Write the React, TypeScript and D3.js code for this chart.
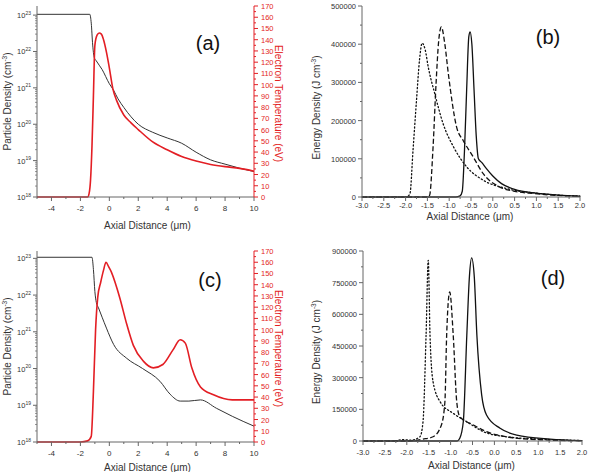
import * as d3 from "d3";
import React from "react";

// ---- panel (a): density (cm^-3) and electron temperature (eV) vs axial distance (um)
const densityXA = [-5, -1.35, -1.25, -1.15, -1.05, -0.9, -0.5, 0, 0.3, 0.6, 1, 1.5, 2, 3, 4, 5, 6, 7, 8, 9, 10];
const densityA = [1.05e23, 1.05e23, 6e22, 1.5e22, 7e21, 5.5e21, 3.2e21, 1.3e21, 8.5e20, 5e20, 2.9e20, 1.6e20, 1.0e20, 6e19, 4.2e19, 3e19, 1.7e19, 1.05e19, 8e18, 6.2e18, 5e18];
const tempXA = [-5, -1.5, -1.4, -1.3, -1.2, -1.1, -1.0, -0.85, -0.7, -0.55, -0.4, -0.2, 0, 0.25, 0.5, 1, 1.5, 2, 3, 4, 5, 6, 7, 8, 9, 10];
const tempA = [0, 0, 3, 15, 45, 90, 135, 144, 146, 145, 140, 129, 115, 96, 86, 73, 66, 60, 49, 42, 36, 32, 29, 27, 25.5, 23];

// ---- panel (c)
const densityXC = [-5, -1.2, -1.1, -1.0, -0.9, -0.75, -0.5, -0.2, 0.3, 1.2, 2.3, 3.5, 4.2, 4.9, 5.5, 6.3, 7.4, 8.5, 10];
const densityC = [1.07e23, 1.07e23, 5e22, 1.26e22, 6.3e21, 4.5e21, 2.5e21, 1.26e21, 4.5e20, 1.9e20, 1.0e20, 4.5e19, 2e19, 1.3e19, 1.3e19, 1.4e19, 8.3e18, 5e18, 2.7e18];
const tempXC = [-5, -2, -1.5, -1.25, -1.1, -0.95, -0.8, -0.6, -0.4, -0.23, -0.05, 0.15, 0.45, 0.73, 1.2, 1.66, 2.35, 3.04, 3.7, 4.4, 4.9, 5.25, 5.7, 6.3, 7.2, 8.5, 10];
const tempC = [0, 0, 1, 5, 45, 100, 129, 142, 153, 160, 156, 151, 140, 128, 105, 86, 72, 66, 69, 82, 91, 88, 66, 49, 42, 37.5, 37.5];

// ---- panel (b): energy density (J cm^-3)
const solidXB = [-3, -0.85, -0.75, -0.7, -0.65, -0.6, -0.55, -0.52, -0.48, -0.43, -0.38, -0.33, -0.25, -0.15, 0, 0.2, 0.5, 1.0, 1.5, 2.0];
const solidB = [0, 0, 3e3, 15e3, 120e3, 280e3, 420e3, 432e3, 400e3, 280e3, 160e3, 100e3, 90e3, 75e3, 55e3, 35e3, 20e3, 10e3, 5e3, 2e3];
const dashXB = [-3, -1.5, -1.45, -1.37, -1.3, -1.24, -1.18, -1.1, -1.02, -0.83, -0.68, -0.45, -0.22, 0.16, 0.5, 0.93, 1.5, 2.0];
const dashB = [0, 0, 4e3, 131e3, 300e3, 410e3, 445e3, 400e3, 323e3, 183e3, 148e3, 105e3, 61e3, 26e3, 15e3, 9e3, 4e3, 2e3];
const dotXB = [-3, -1.98, -1.9, -1.83, -1.75, -1.68, -1.62, -1.55, -1.48, -1.33, -1.14, -0.9, -0.6, -0.22, 0.32, 1.08, 2.0];
const dotB = [0, 0, 9e3, 122e3, 253e3, 360e3, 403e3, 385e3, 340e3, 270e3, 192e3, 131e3, 79e3, 44e3, 22e3, 9e3, 2e3];

// ---- panel (d)
const solidXD = [-3, -0.85, -0.79, -0.71, -0.63, -0.57, -0.52, -0.46, -0.4, -0.29, -0.18, 0.13, 0.51, 1.27, 2.0];
const solidD = [0, 0, 13e3, 91e3, 501e3, 780e3, 867e3, 780e3, 501e3, 217e3, 123e3, 60e3, 28e3, 9e3, 2e3];
const dashXD = [-3, -2.0, -1.63, -1.4, -1.21, -1.13, -1.09, -1.02, -0.94, -0.86, -0.79, -0.48, -0.18, 0.28, 1.05, 2.0];
const dashD = [0, 0, 9e3, 20e3, 76e3, 186e3, 501e3, 706e3, 501e3, 186e3, 115e3, 76e3, 44e3, 20e3, 6e3, 1e3];
const dotXD = [-3, -2.3, -2.1, -1.9, -1.7, -1.63, -1.56, -1.51, -1.47, -1.4, -1.24, -0.94, -0.63, -0.25, 0.28, 1.05, 2.0];
const dotD = [0, 0, 6e3, 4e3, 20e3, 91e3, 501e3, 856e3, 501e3, 280e3, 186e3, 131e3, 91e3, 44e3, 20e3, 9e3, 2e3];

const xTicksDens = [-4, -2, 0, 2, 4, 6, 8, 10];
const tempTicks = d3.range(0, 171, 10);

const RED = "#e31e24";
const AXIS = "#666";
const FONT = "'Liberation Sans', Arial, sans-serif";

function zip(xs: number[], ys: number[]) {
  return xs.map((x, i) => [x, ys[i]] as [number, number]);
}

function DensityPanel({ box, logMax, xd, yd, xt, yt, label, titleY }: any) {
  const { left, right, top, bottom } = box;
  const x = d3.scaleLinear().domain([-5, 10]).range([left, right]);
  const y = d3.scaleLog().domain([1e18, Math.pow(10, logMax)]).range([bottom, top]);
  const t = d3.scaleLinear().domain([0, 170]).range([bottom, top]);
  const lineD = d3.line<[number, number]>().x((d) => x(d[0])).y((d) => y(d[1])).curve(d3.curveMonotoneX);
  const lineT = d3.line<[number, number]>().x((d) => x(d[0])).y((d) => t(d[1])).curve(d3.curveMonotoneX);
  const minorLog: number[] = [];
  for (let e = 18; e < 24; e++) for (let m = 2; m < 10; m++) {
    const v = m * Math.pow(10, e);
    if (v <= Math.pow(10, logMax)) minorLog.push(v);
  }
  const mid = (top + bottom) / 2;
  return (
    <g>
      <path d={lineD(zip(xd, yd)) || ""} fill="none" stroke="#333" strokeWidth={1} />
      <path d={lineT(zip(xt, yt)) || ""} fill="none" stroke={RED} strokeWidth={1.6} />
      {/* left log axis */}
      <line x1={left} x2={left} y1={top} y2={bottom} stroke={AXIS} />
      {minorLog.map((v) => (
        <line key={"m" + v} x1={left - 2} x2={left} y1={y(v)} y2={y(v)} stroke={AXIS} strokeWidth={0.7} />
      ))}
      {d3.range(18, 24).map((e) => (
        <g key={"e" + e}>
          <line x1={left - 4} x2={left} y1={y(Math.pow(10, e))} y2={y(Math.pow(10, e))} stroke={AXIS} />
          <text x={left - 6} y={y(Math.pow(10, e)) + 3} textAnchor="end" fontSize={7.5} fill="#333">
            10<tspan dy={-3.5} fontSize={5}>{e}</tspan>
          </text>
        </g>
      ))}
      {/* bottom axis */}
      <line x1={left} x2={right} y1={bottom} y2={bottom} stroke={AXIS} />
      {d3.range(-5, 11, 1).map((v) => (
        <line key={"xm" + v} x1={x(v)} x2={x(v)} y1={bottom} y2={bottom + (v % 2 === 0 ? 4 : 2)} stroke={AXIS} />
      ))}
      {xTicksDens.map((v) => (
        <text key={"xl" + v} x={x(v)} y={bottom + 14} textAnchor="middle" fontSize={8} fill="#333">{v}</text>
      ))}
      {/* right temperature axis */}
      <line x1={right} x2={right} y1={top} y2={bottom} stroke={RED} />
      {d3.range(0, 171, 5).map((v) => (
        <line key={"tm" + v} x1={right} x2={right + (v % 10 === 0 ? 4 : 2)} y1={t(v)} y2={t(v)} stroke={RED} />
      ))}
      {tempTicks.map((v) => (
        <text key={"tl" + v} x={right + 7} y={t(v) + 3} fontSize={7.5} fill={RED}>{v}</text>
      ))}
      {/* titles */}
      <text transform={`translate(11,${mid}) rotate(-90)`} textAnchor="middle" fontSize={10} fill="#333">
        Particle Density (cm<tspan dy={-4} fontSize={6.5}>-3</tspan><tspan dy={4}>)</tspan>
      </text>
      <text transform={`translate(275,${mid + 2}) rotate(90)`} textAnchor="middle" fontSize={10} fill={RED}>
        Electron Temperature (eV)
      </text>
      <text x={(left + right) / 2 + 2} y={titleY} textAnchor="middle" fontSize={10} fill="#333">Axial Distance (μm)</text>
      <text x={label[1]} y={label[2]} textAnchor="middle" fontSize={20} fill="#111">{label[0]}</text>
    </g>
  );
}

function EnergyPanel({ box, yMax, yStep, series, label, titleY, tickOffset }: any) {
  const { left, right, top, bottom } = box;
  const x = d3.scaleLinear().domain([-3, 2]).range([left, right]);
  const y = d3.scaleLinear().domain([0, yMax]).range([bottom, top]);
  const line = d3.line<[number, number]>().x((d) => x(d[0])).y((d) => y(d[1])).curve(d3.curveMonotoneX);
  const dashes = ["", "5,2.5", "1.2,2.4"];
  const mid = (top + bottom) / 2;
  return (
    <g>
      {series.map((s: any, i: number) => (
        <path key={i} d={line(zip(s[0], s[1])) || ""} fill="none" stroke="#111" strokeWidth={1.3}
          strokeDasharray={dashes[i]} strokeLinecap={i === 2 ? "round" : "butt"} />
      ))}
      <line x1={left} x2={left} y1={top} y2={bottom} stroke={AXIS} />
      {d3.range(0, yMax + 1, yStep / 2).map((v) => (
        <line key={"ym" + v} x1={left - (v % yStep === 0 ? 4 : 2)} x2={left} y1={y(v)} y2={y(v)} stroke={AXIS} />
      ))}
      {d3.range(0, yMax + 1, yStep).map((v) => (
        <text key={"yl" + v} x={left - 6} y={y(v) + 3} textAnchor="end" fontSize={7.5} fill="#333">{v}</text>
      ))}
      <line x1={left} x2={right} y1={bottom} y2={bottom} stroke={AXIS} />
      {d3.range(-3, 2.001, 0.25).map((v, i) => (
        <line key={"xm" + i} x1={x(v)} x2={x(v)} y1={bottom} y2={bottom + (i % 2 === 0 ? 4 : 2)} stroke={AXIS} />
      ))}
      {d3.range(-3, 2.001, 0.5).map((v, i) => (
        <text key={"xl" + i} x={x(v)} y={bottom + tickOffset} textAnchor="middle" fontSize={7.5} fill="#333">{v.toFixed(1)}</text>
      ))}
      <text transform={`translate(320,${mid + 6}) rotate(-90)`} textAnchor="middle" fontSize={10} fill="#333">
        Energy Density (J cm<tspan dy={-4} fontSize={6.5}>-3</tspan><tspan dy={4}>)</tspan>
      </text>
      <text x={(left + right) / 2 - 1} y={titleY} textAnchor="middle" fontSize={10} fill="#333">Axial Distance (μm)</text>
      <text x={label[1]} y={label[2]} textAnchor="middle" fontSize={20} fill="#111">{label[0]}</text>
    </g>
  );
}

export default function App() {
  return (
    <svg width={594} height={472} style={{ position: "absolute", left: 0, top: 0, fontFamily: FONT }}>
      <rect width={594} height={472} fill="#fff" />
      <DensityPanel box={{ left: 37, right: 254, top: 6, bottom: 197 }} logMax={23.25}
        xd={densityXA} yd={densityA} xt={tempXA} yt={tempA} label={["(a)", 208, 50]} titleY={229} />
      <DensityPanel box={{ left: 37, right: 254, top: 251, bottom: 442 }} logMax={23.2}
        xd={densityXC} yd={densityC} xt={tempXC} yt={tempC} label={["(c)", 210, 287]} titleY={471} />
      <EnergyPanel box={{ left: 362, right: 580, top: 6, bottom: 197 }} yMax={500000} yStep={100000} tickOffset={10.5}
        series={[[solidXB, solidB], [dashXB, dashB], [dotXB, dotB]]} label={["(b)", 548, 44]} titleY={220} />
      <EnergyPanel box={{ left: 363, right: 582, top: 251, bottom: 441 }} yMax={900000} yStep={150000} tickOffset={14}
        series={[[solidXD, solidD], [dashXD, dashD], [dotXD, dotD]]} label={["(d)", 553, 285]} titleY={469} />
    </svg>
  );
}
